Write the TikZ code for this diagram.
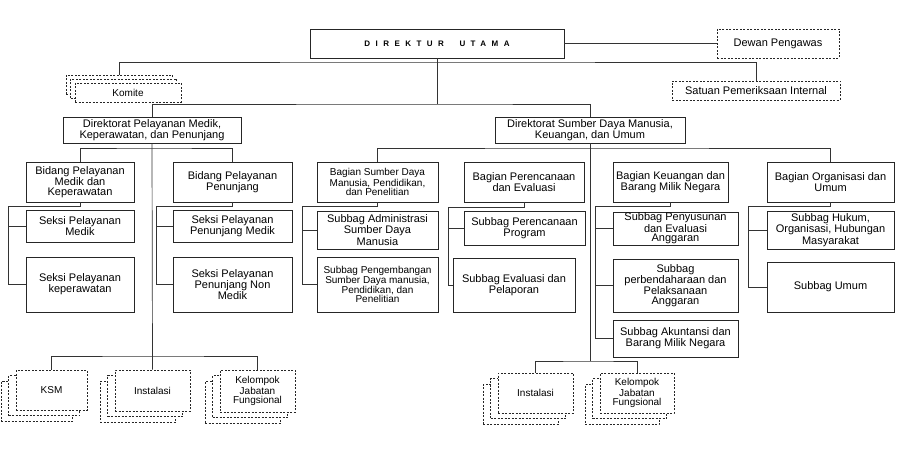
\documentclass[tikz,border=0pt]{standalone}
\usepackage{fontspec}
\setmainfont{Liberation Sans}
\newfontfamily\titlefont[LetterSpace=68]{Liberation Sans}
\begin{document}
\begin{tikzpicture}[x=1pt,y=-1pt,
    line/.style={draw=black!80,line width=0.7pt},
    box/.style={draw=black!85,line width=0.7pt,fill=white,align=center,inner sep=0.5pt,
      font=\fontsize{11}{9.5}\selectfont},
    smallfont/.style={font=\fontsize{10}{9}\selectfont},
    dashbox/.style={box,dash pattern=on 2pt off 1.5pt},
    wh/.style 2 args={minimum width=#1,minimum height=#2}]
    \useasboundingbox (0,0) rectangle (910,449);
    % top level
    \node[box,wh={254}{29}] (dirut) at (437,43.5)
        {\fontsize{8}{9}\selectfont\titlefont\bfseries DIREKTUR\hspace{8pt} UTAMA};
    \node[dashbox,wh={122}{29}] (dewan) at (778,43.5) {Dewan Pengawas};
    \foreach \i in {2,1}
        \node[dashbox,smallfont,wh={106}{19}] (komite\i) at (128-4.5*\i,92.5-4*\i) {};
    \node[dashbox,smallfont,wh={106}{19}] (komite) at (128,92.5) {Komite};
    \node[dashbox,wh={168}{19}] (spi) at (756,90.5) {Satuan Pemeriksaan Internal};
    % directorates
    \node[box,wh={178}{26}] (dir1) at (152,130) {Direktorat Pelayanan Medik,\\Keperawatan, dan Penunjang};
    \node[box,wh={190}{26}] (dir2) at (590,130) {Direktorat Sumber Daya Manusia,\\Keuangan, dan Umum};
    % bidang and seksi
    \node[box,wh={108}{40}] (bid1) at (80,182) {Bidang Pelayanan\\Medik dan\\Keperawatan};
    \node[box,wh={119}{40}] (bid2) at (232.5,182) {Bidang Pelayanan\\Penunjang};
    \node[box,wh={108}{32}] (sek1) at (80,226) {Seksi Pelayanan\\Medik};
    \node[box,wh={108}{55}] (sek2) at (80,284.5) {Seksi Pelayanan\\keperawatan};
    \node[box,wh={119}{32}] (sek3) at (232.5,226) {Seksi Pelayanan\\Penunjang Medik};
    \node[box,wh={119}{55}] (sek4) at (232.5,284.5) {Seksi Pelayanan\\Penunjang Non\\Medik};
    % bagian and subbag
    \node[box,smallfont,wh={121}{40}] (bag1) at (377.5,182) {Bagian Sumber Daya\\Manusia, Pendidikan,\\dan Penelitian};
    \node[box,wh={121}{38}] (sub1) at (377.5,230) {Subbag Administrasi\\Sumber Daya\\Manusia};
    \node[box,smallfont,wh={121}{55}] (sub2) at (377.5,284.5) {Subbag Pengembangan\\Sumber Daya manusia,\\Pendidikan, dan\\Penelitian};
    \node[box,wh={120}{40}] (bag2) at (524,182) {Bagian Perencanaan\\dan Evaluasi};
    \node[box,wh={121}{34}] (sub3) at (524.5,228) {Subbag Perencanaan\\Program};
    \node[box,wh={122}{54}] (sub4) at (514,285) {Subbag Evaluasi dan\\Pelaporan};
    \node[box,wh={115}{40}] (bag3) at (670.5,182) {Bagian Keuangan dan\\Barang Milik Negara};
    \node[box,wh={125}{33}] (sub5) at (675.5,228.5) {Subbag Penyusunan\\dan Evaluasi\\Anggaran};
    \node[box,wh={125}{53}] (sub6) at (675.5,285.5) {Subbag\\perbendaharaan dan\\Pelaksanaan\\Anggaran};
    \node[box,wh={125}{37}] (sub7) at (675.5,338.5) {Subbag Akuntansi dan\\Barang Milik Negara};
    \node[box,wh={127}{40}] (bag4) at (830.5,182) {Bagian Organisasi dan\\Umum};
    \node[box,wh={127}{38}] (sub8) at (830.5,230) {Subbag Hukum,\\Organisasi, Hubungan\\Masyarakat};
    \node[box,wh={127}{50}] (sub9) at (830.5,287) {Subbag Umum};
    % stacked groups
    \foreach \i in {2,1} {
        \node[dashbox,wh={71}{40}] (ksm\i) at (51.5-7.5*\i,390+5.75*\i) {};
        \node[dashbox,wh={75}{41}] (ins1\i) at (152.5-7.5*\i,390.5+5.75*\i) {};
        \node[dashbox,wh={75}{42}] (kjf1\i) at (257.5-7.5*\i,391+5.75*\i) {};
        \node[dashbox,wh={75}{40}] (ins2\i) at (535.5-7.5*\i,393+5.75*\i) {};
        \node[dashbox,wh={74}{40}] (kjf2\i) at (637-7.5*\i,393+5.75*\i) {};
    }
    \node[dashbox,smallfont,wh={71}{40}] (ksm) at (51.5,390) {KSM};
    \node[dashbox,smallfont,wh={75}{41}] (ins1) at (152.5,390.5) {Instalasi};
    \node[dashbox,smallfont,wh={75}{42}] (kjf1) at (257.5,391) {Kelompok\\Jabatan\\Fungsional};
    \node[dashbox,smallfont,wh={75}{40}] (ins2) at (535.5,393) {Instalasi};
    \node[dashbox,smallfont,wh={74}{40}] (kjf2) at (637,393) {Kelompok\\Jabatan\\Fungsional};
    % joints
    \coordinate (top) at (437,62);
    \coordinate (mid) at (437,104);
    \coordinate (l1) at (152,148);
    \coordinate (l2) at (152,356);
    \coordinate (r1) at (590,148);
    \coordinate (r2) at (590,361);
    \coordinate (s1) at (8,206);
    \coordinate (s2) at (156,206);
    \coordinate (s3) at (302,206);
    \coordinate (s4) at (448,207);
    \coordinate (s5) at (595,206);
    \coordinate (s6) at (748,206);
    % connectors
    \draw[line] (dirut) -- (dewan);
    \draw[line] (komite2.north) |- (top) -| (spi.north);
    \draw[line] (dirut.south) -- (mid);
    \draw[line] (dir1.north) |- (mid) -| (dir2.north);
    \draw[line] (bid1.north) |- (l1) -| (bid2.north);
    \draw[line] (dir1.south) -- (ins1.north);
    \draw[line] (ksm.north) |- (l2) -| (kjf1.north);
    \draw[line] (bid1.south) |- (s1) |- (sek2.west);
    \draw[line] (s1 |- sek1.west) -- (sek1.west);
    \draw[line] (bid2.south) |- (s2) |- (sek4.west);
    \draw[line] (s2 |- sek3.west) -- (sek3.west);
    \draw[line] (bag1.north) |- (r1) -| (bag4.north);
    \draw[line] (dir2.south) -- (r2);
    \draw[line] (ins2.north) |- (r2) -| (kjf2.north);
    \draw[line] (bag1.south) |- (s3) |- (sub2.west);
    \draw[line] (s3 |- sub1.west) -- (sub1.west);
    \draw[line] (bag2.south) |- (s4) |- (sub4.west);
    \draw[line] (s4 |- sub3.west) -- (sub3.west);
    \draw[line] (bag3.south) |- (s5) |- (sub7.west);
    \draw[line] (s5 |- sub5.west) -- (sub5.west);
    \draw[line] (s5 |- sub6.west) -- (sub6.west);
    \draw[line] (bag4.south) |- (s6) |- (sub9.west);
    \draw[line] (s6 |- sub8.west) -- (sub8.west);
\end{tikzpicture}
\end{document}
